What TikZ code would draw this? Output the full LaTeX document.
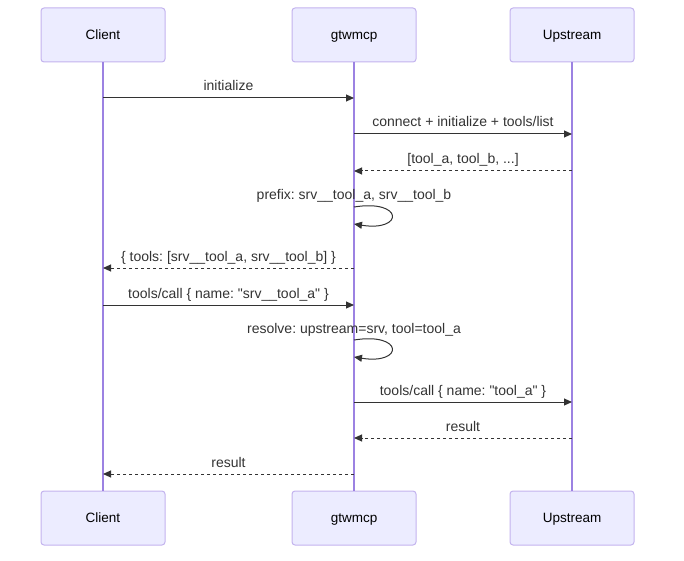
\documentclass[tikz,border=0pt]{standalone}
\usepackage{fontspec}
\setmainfont{Liberation Sans}
\usetikzlibrary{arrows.meta}
\frenchspacing

\definecolor{actorfill}{HTML}{ECECFF}
\definecolor{actorline}{HTML}{C3B3EE}
\definecolor{lifecol}{HTML}{9C82E2}
\definecolor{msgcol}{HTML}{333333}

\tikzset{
    actor/.style={draw=actorline, fill=actorfill, line width=1pt,
        rounded corners=3pt, minimum width=124pt, minimum height=54pt,
        font=\fontsize{13.5}{15}\selectfont, text=black,
        text height=11pt, text depth=2pt},
    lifeline/.style={draw=lifecol, line width=1.3pt},
    msg/.style={draw=msgcol, line width=1pt,
        -{Triangle[length=8pt,width=7pt]}},
    reply/.style={msg, dash pattern=on 3pt off 3pt},
    msgtext/.style={font=\fontsize{14}{16}\selectfont, text=msgcol,
        inner sep=0pt, anchor=base, yshift=7pt}
}

\begin{document}
\begin{tikzpicture}
    [x=1pt,y=-1pt]
    \useasboundingbox (0,0) rectangle (684,561);
    %actors top
    \node[actor] (client) at (103,35) {Client};
    \node[actor] (gtw) at (354,35) {gtwmcp};
    \node[actor] (up) at (572,35) {Upstream};
    %actors bottom
    \node[actor] (clientb) at (103,518) {Client};
    \node[actor] (gtwb) at (354,518) {gtwmcp};
    \node[actor] (upb) at (572,518) {Upstream};
    %lifelines
    \draw[lifeline] (client.south) -- (clientb.north);
    \draw[lifeline] (gtw.south) -- (gtwb.north);
    \draw[lifeline] (up.south) -- (upb.north);
    %startup
    \draw[msg] (client |- 0,98) -- node[msgtext]{initialize} (gtw |- 0,98);
    \draw[msg] (gtw |- 0,134) -- node[msgtext]{connect + initialize + tools/list} (up |- 0,134);
    \draw[reply] (up |- 0,171) -- node[msgtext]{[tool\_a, tool\_b, ...]} (gtw |- 0,171);
    \node[msgtext] (prefix) at (354,207) {prefix: srv\_\_tool\_a, srv\_\_tool\_b};
    \draw[msg] (gtw |- 0,207) .. controls +(50,-8) and +(50,8) .. (gtw |- 0,224);
    \draw[reply] (gtw |- 0,268) -- node[msgtext]{\{ tools: [srv\_\_tool\_a, srv\_\_tool\_b] \}} (client |- 0,268);
    %call
    \draw[msg] (client |- 0,305) -- node[msgtext]{tools/call \{ name: \textquotedbl srv\_\_tool\_a\textquotedbl{} \}} (gtw |- 0,305);
    \node[msgtext] (resolve) at (354,340) {resolve: upstream=srv, tool=tool\_a};
    \draw[msg] (gtw |- 0,340) .. controls +(50,-8) and +(50,8) .. (gtw |- 0,357);
    \draw[msg] (gtw |- 0,402) -- node[msgtext]{tools/call \{ name: \textquotedbl tool\_a\textquotedbl{} \}} (up |- 0,402);
    \draw[reply] (up |- 0,438) -- node[msgtext]{result} (gtw |- 0,438);
    \draw[reply] (gtw |- 0,474) -- node[msgtext]{result} (client |- 0,474);
\end{tikzpicture}
\end{document}
